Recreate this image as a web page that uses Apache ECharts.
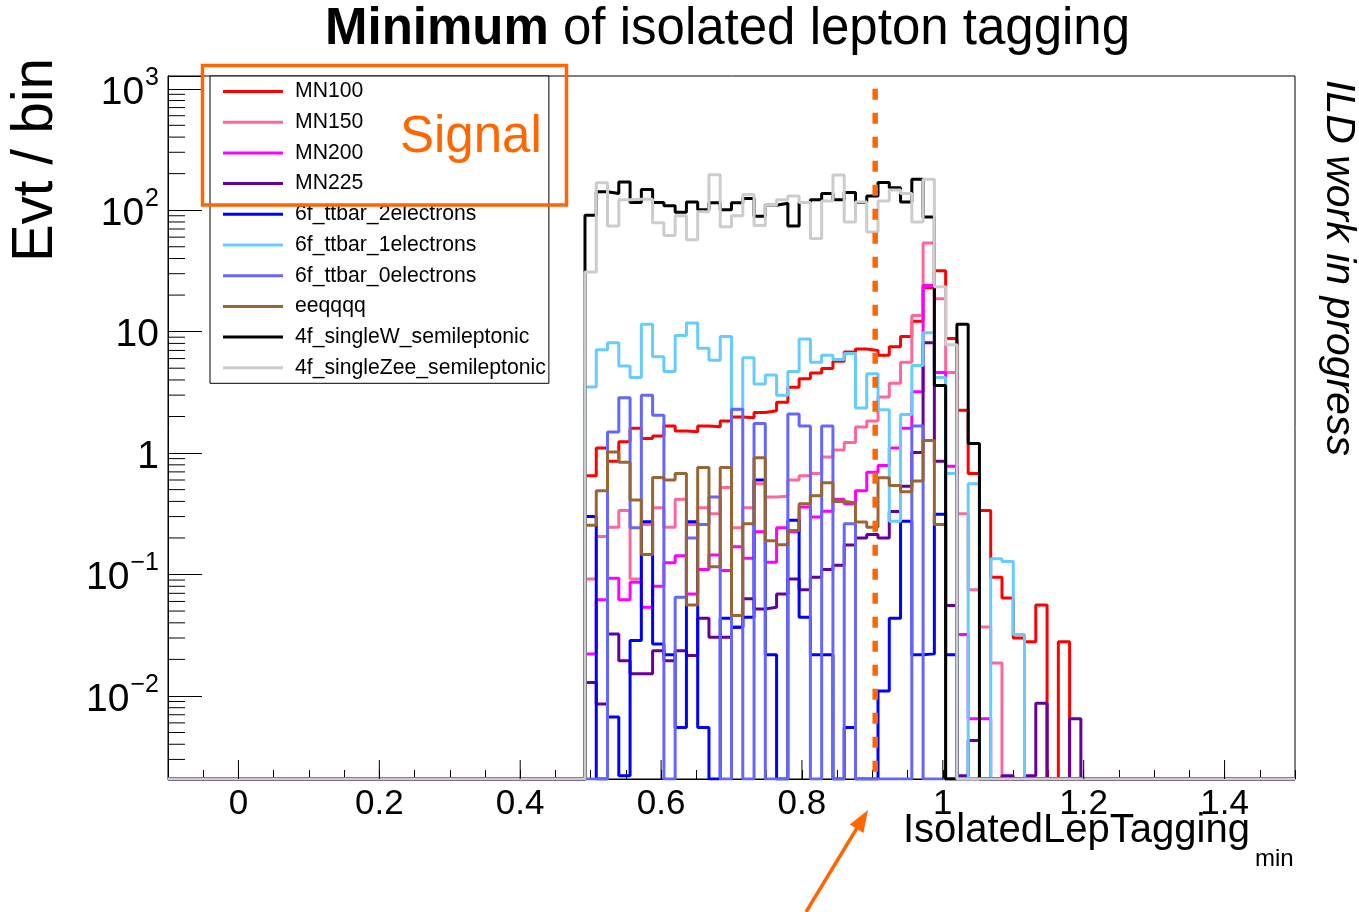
<!DOCTYPE html>
<html><head><meta charset="utf-8">
<script src="https://cdn.jsdelivr.net/npm/echarts@6/dist/echarts.min.js"></script>
<style>html,body{margin:0;padding:0;background:#fff}#c{width:1359px;height:912px}</style>
</head><body><div id="c"></div>
<script>
// ---- axis ranges / binning ----
const X_MIN = -0.1, X_MAX = 1.5;
const Y_MIN = 0.00207, Y_MAX = 1274;
const BIN_WIDTH = 0.016;
const N_BINS = 100;
const FIRST_FILLED_BIN = 37;   // bin whose left edge is 0.492
const CUT_VALUE = 0.904;
const CUT_TOP = 1000;

// ---- tick labels ----
const X_MAJOR = [0, 0.2, 0.4, 0.6, 0.8, 1.0, 1.2, 1.4];
const X_TICK_LABELS = ['0', '0.2', '0.4', '0.6', '0.8', '1', '1.2', '1.4'];
const Y_DECADES = [-2, -1, 0, 1, 2, 3];
const Y_TICK_LABELS = [['10', '\u22122'], ['10', '\u22121'], ['1', ''], ['10', ''], ['10', '2'], ['10', '3']];
const Y_MINOR = [0.003,0.004,0.005,0.006,0.007,0.008,0.009,
  0.02,0.03,0.04,0.05,0.06,0.07,0.08,0.09,
  0.2,0.3,0.4,0.5,0.6,0.7,0.8,0.9,
  2,3,4,5,6,7,8,9,
  20,30,40,50,60,70,80,90,
  200,300,400,500,600,700,800,900];

// ---- series (bin contents from 0.492 upward, bin width 0.016) ----
const seriesNames = ['MN100','MN150','MN200','MN225','6f_ttbar_2electrons','6f_ttbar_1electrons','6f_ttbar_0electrons','eeqqqq','4f_singleW_semileptonic','4f_singleZee_semileptonic'];
const seriesColors = ['#ff0000','#ff6699','#ff00ff','#660099','#0000ff','#66ccff','#6666ff','#996633','#000000','#cccccc'];

const MN100 = [0.65,1.1,0.855,1.24,1.6,1.32,1.38,1.67,1.52,1.5,1.67,1.65,1.84,1.98,1.95,2.16,2.23,2.62,3.48,4.1,4.57,4.97,5.7,6.8,7.2,7.0,6.4,7.5,9.1,12.2,23,31.7,8.8,2.25,0.68,0.337,0.095,0.064,0.03,0.028,0.056,0,0.028,0];
const MN150 = [0.092,0.206,0.245,0.337,0.092,0.258,0.355,0.245,0.416,0.258,0.355,0.316,0.52,0.243,0.355,0.56,0.435,0.44,0.6,0.65,0.68,0.93,1.06,1.22,1.64,1.84,2.9,3.75,5.6,13.6,53.8,18.7,4.6,0.316,0.075,0.037,0.0187,0,0,0,0,0,0,0];
const MN200 = [0.0222,0.062,0.093,0.062,0.0865,0.0537,0.08,0.125,0.143,0.069,0.11,0.145,0.108,0.169,0.136,0.225,0.126,0.243,0.225,0.359,0.297,0.332,0.416,0.383,0.49,0.695,0.79,1.1,1.6,3.2,24,4.6,0.78,0.032,0.0065,0.0065,0,0,0,0,0,0,0,0];
const MN225 = [0.0129,0.0086,0.0324,0.0195,0.0152,0.0152,0.0236,0.0195,0.0236,0.0215,0.0436,0.0304,0.0304,0.0368,0.063,0.052,0.0537,0.069,0.092,0.075,0.095,0.11,0.119,0.175,0.2,0.214,0.2,0.33,0.533,1.01,8.1,0.855,0.0555,0.0022,0.0043,0,0,0.0022,0,0.0022,0.0087,0,0,0.0065];
const TTBAR_2E = [0.3,0,0.0067,0.0022,0.0286,0.272,0.0268,0.0218,0.0055,0.272,0.0055,0,0.0436,0.0368,0.0445,0.6,0.0218,0,0.28,0.0445,0.0218,0.0218,0,0.0055,0,0,0.011,0.0436,0.274,0.0218,0.0222,0.313,0.0218,0,0,0,0,0,0,0,0,0,0,0];
const TTBAR_1E = [3.5,7.1,8.1,5.2,4.2,11.5,6.2,4.7,9.3,11.8,7.3,5.8,9.1,2.28,6.1,3.7,4.4,3.0,4.7,8.7,5.6,6.4,5.9,6.6,2.35,4.5,2.27,0.275,2.08,5.25,9.8,4.2,0.68,0,0.56,0,0.135,0.128,0.032,0,0,0,0,0];
const TTBAR_0E = [0,0,1.49,2.86,0.243,3.0,2.05,0,0.065,0.2,0.258,0.435,0,2.3,0,1.75,0,0,2.1,1.67,0,1.67,0,0.262,0,0,0,0,0,1.67,0,0,0,0,0,0,0,0,0,0,0,0,0,0];
const EEQQQQ = [0.255,0.49,1.02,0.84,0.41,0.146,0.63,0.6,0.68,0.056,0.76,0.116,0.76,0.046,0.262,0.916,0.19,0.176,0.23,0.383,0.445,0.57,0.4,0.39,0.27,0.245,0.625,0.54,0.48,0.59,1.27,0.258,0,0,0,0,0,0,0,0,0,0,0,0];
const SINGLE_W = [91,142,137,171,116,148,116,109,96,117,101,115,101,115,125,89,110,114,74,116,122,137,122,140,116,131,169,153,117,180,88,3.6,0,11.5,1.2,0,0,0,0,0,0,0,0,0];
const SINGLE_ZEE = [31,168,74,122,123,123,79,62,90,57,97,196,73,90,135,75,110,122,131,116,58.5,119,195,80,117,66,119,147,137,80,180,23.4,7.8,0,0,0,0,0,0,0,0,0,0,0];

const seriesValues = [MN100, MN150, MN200, MN225, TTBAR_2E, TTBAR_1E, TTBAR_0E, EEQQQQ, SINGLE_W, SINGLE_ZEE];

function binEdge(k) { return +(X_MIN + k * BIN_WIDTH).toFixed(4); }
function histData(vals) {
  const pts = [];
  for (let k = 0; k < N_BINS; k++) {
    const i = k - FIRST_FILLED_BIN;
    const v = (i >= 0 && i < vals.length) ? vals[i] : 0;
    pts.push([binEdge(k), v > 0 ? v : Y_MIN]);
  }
  pts.push([X_MAX, pts[pts.length - 1][1]]);
  return pts;
}

const FONT = '"Liberation Sans", Arial, Helvetica, sans-serif';
const chart = echarts.init(document.getElementById('c'), null, {renderer: 'canvas'});

const histSeries = seriesNames.map((n, idx) => ({
  name: n, type: 'line', step: 'end', symbol: 'none', showSymbol: false,
  data: histData(seriesValues[idx]),
  lineStyle: {color: seriesColors[idx], width: 3},
  itemStyle: {color: seriesColors[idx]},
  clip: true, silent: true, z: 3 + idx * 0.01
}));

const option = {
  animation: false,
  textStyle: {fontFamily: FONT},
  grid: {left: 168, top: 76, width: 1127, height: 703, show: true, borderColor: '#000', borderWidth: 1, backgroundColor: 'transparent'},
  xAxis: {
    type: 'value', min: X_MIN, max: X_MAX, interval: 0.05,
    axisLine: {show: true, onZero: false, lineStyle: {color: '#000', width: 1}},
    axisTick: {show: true, inside: true, length: 9, lineStyle: {color: '#000', width: 1}},
    splitLine: {show: false},
    axisLabel: {
      margin: 8, color: '#000', fontSize: 35, fontFamily: FONT, showMinLabel: true, showMaxLabel: true,
      formatter: v => {
        for (let i = 0; i < X_MAJOR.length; i++) if (Math.abs(v - X_MAJOR[i]) < 1e-6) return X_TICK_LABELS[i];
        return '';
      }
    }
  },
  yAxis: {
    type: 'log', logBase: 10, min: Y_MIN, max: Y_MAX,
    axisLine: {show: true, onZero: false, lineStyle: {color: '#000', width: 1}},
    axisTick: {show: true, inside: true, length: 34, lineStyle: {color: '#000', width: 1}},
    splitLine: {show: false},
    axisLabel: {
      margin: 9, color: '#000', fontFamily: FONT,
      formatter: v => {
        const lg = Math.log10(v), e = Math.round(lg);
        if (Math.abs(lg - e) > 1e-6) return '';
        const i = Y_DECADES.indexOf(e);
        if (i < 0) return '';
        const lab = Y_TICK_LABELS[i];
        return lab[1] ? '{b|' + lab[0] + '}{s|' + lab[1] + '}' : '{b|' + lab[0] + '}';
      },
      rich: {
        b: {fontSize: 39, fontFamily: FONT, color: '#000', verticalAlign: 'middle', lineHeight: 36, padding: [8, 0, 0, 0]},
        s: {fontSize: 25, fontFamily: FONT, color: '#000', verticalAlign: 'middle', lineHeight: 24, padding: [0, 0, 22, 1]}
      }
    }
  },
  legend: {
    data: seriesNames, orient: 'vertical', left: 210, top: 76,
    padding: [5, 3, 5, 13], itemGap: 9.7, itemWidth: 60, itemHeight: 3, icon: 'rect',
    backgroundColor: '#fff', borderColor: '#000', borderWidth: 1, borderRadius: 0,
    textStyle: {fontSize: 21.2, fontFamily: FONT, color: '#000', lineHeight: 21, padding: [0, 0, 0, 7]},
    selectedMode: false, z: 10
  },
  series: [
    ...histSeries,
    {
      name: 'cut', type: 'line', symbol: 'none', silent: true, z: 5,
      data: [[CUT_VALUE, CUT_TOP], [CUT_VALUE, Y_MIN]],
      lineStyle: {color: '#ff6600', width: 5.5, type: [11, 13]}
    },
    {
      name: 'xMajorTicks', type: 'custom', silent: true, z: 6,
      data: X_MAJOR.map(v => [v, Y_MIN]),
      encode: {x: 0, y: 1},
      renderItem: (params, api) => {
        const p = api.coord([api.value(0), api.value(1)]);
        return {type: 'line', shape: {x1: p[0], y1: p[1], x2: p[0], y2: p[1] - 19}, style: {stroke: '#000', lineWidth: 1}};
      }
    },
    {
      name: 'yMinorTicks', type: 'custom', silent: true, z: 6,
      data: Y_MINOR.map(v => [X_MIN, v]),
      encode: {x: 0, y: 1},
      renderItem: (params, api) => {
        const p = api.coord([api.value(0), api.value(1)]);
        return {type: 'line', shape: {x1: p[0], y1: p[1], x2: p[0] + 17, y2: p[1]}, style: {stroke: '#000', lineWidth: 1}};
      }
    }
  ],
  graphic: [
    {type: 'text', x: 325, y: 30, z: 100, style: {
      text: '{b|Minimum} of isolated lepton tagging', fill: '#000', font: '51px ' + FONT,
      textAlign: 'left', textVerticalAlign: 'middle',
      rich: {b: {fontWeight: 'bold', fontSize: 51, fontFamily: FONT, fill: '#000'}}
    }},
    {type: 'text', x: 36, y: 58, rotation: Math.PI / 2, z: 100, style: {
      text: 'Evt / bin', fill: '#000', font: '56.5px ' + FONT, textAlign: 'right', textVerticalAlign: 'middle'
    }},
    {type: 'text', x: 1338, y: 80, rotation: -Math.PI / 2, z: 100, style: {
      text: 'ILD work in progress', fill: '#000', font: 'italic 41px ' + FONT, textAlign: 'left', textVerticalAlign: 'middle'
    }},
    {type: 'text', x: 903, y: 831, z: 100, style: {
      text: 'IsolatedLepTagging', fill: '#000', font: '40px ' + FONT, textAlign: 'left', textVerticalAlign: 'middle'
    }},
    {type: 'text', x: 1255, y: 859, z: 100, style: {
      text: 'min', fill: '#000', font: '24px ' + FONT, textAlign: 'left', textVerticalAlign: 'middle'
    }},
    {type: 'rect', z: 100, shape: {x: 202.5, y: 65.5, width: 364, height: 139.5}, style: {fill: 'none', stroke: '#ff6600', lineWidth: 3.5}},
    {type: 'text', x: 400, y: 138, z: 100, style: {
      text: 'Signal', fill: '#ff6600', font: '51px ' + FONT, textAlign: 'left', textVerticalAlign: 'middle'
    }},
    {type: 'line', z: 100, shape: {x1: 806, y1: 912, x2: 857, y2: 828}, style: {stroke: '#ff6600', lineWidth: 3.5}},
    {type: 'polygon', z: 100, shape: {points: [[868, 810], [863.4, 833], [849.8, 824.6]]}, style: {fill: '#ff6600'}}
  ]
};
chart.setOption(option);
</script>
</body></html>
